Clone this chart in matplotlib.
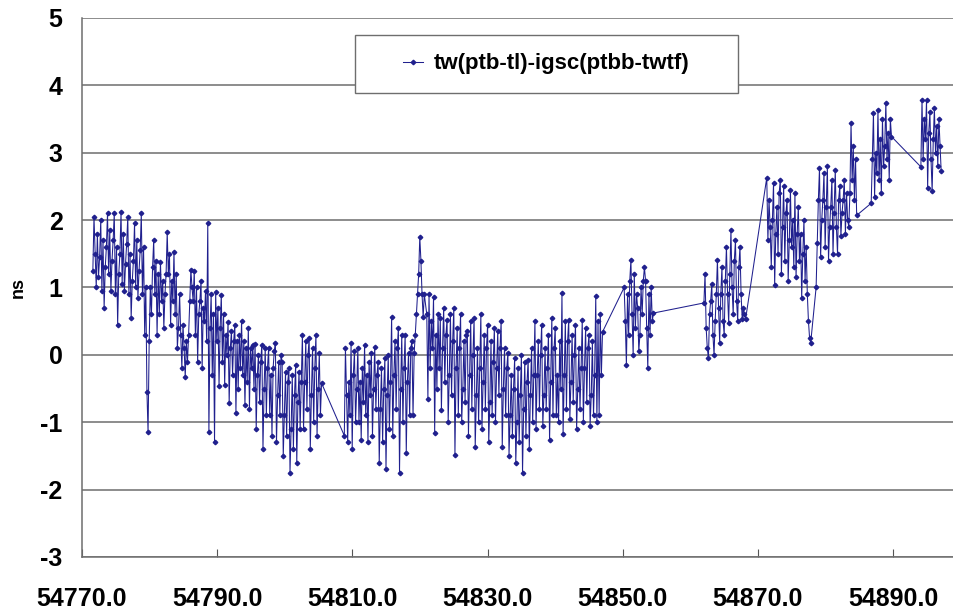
import numpy as np
import matplotlib
matplotlib.use("Agg")
import matplotlib.pyplot as plt
from matplotlib.patches import Rectangle

plt.rcParams['font.family'] = ['Liberation Sans', 'DejaVu Sans']

STEP = 1.0 / 6  # days between samples

seg_starts = [54771.6, 54808.8, 54821.0, 54850.2, 54862.0, 54871.3, 54878.6, 54886.75, 54894.1]

seg_a = [
    1.25, 2.05, 1.5, 1.0, 1.8, 1.15,   1.45, 2.0, 0.95, 1.7, 0.7, 1.3,
    1.6, 2.1, 1.2, 1.85, 0.95, 1.4,    1.7, 2.1, 0.9, 1.6, 0.45, 1.2,
    1.5, 2.12, 1.05, 1.8, 0.95, 1.35,  1.65, 2.05, 0.9, 1.5, 0.55, 1.1,
    1.4, 1.95, 1.0, 1.7, 0.85, 1.25,   1.55, 2.1, 0.9, 1.6, 0.3, 1.0,
    -0.55, -1.15, 0.2, 1.0, 0.6, 1.3,  1.7, 0.9, 1.4, 0.3, 1.2, 0.6,
    1.38, 0.8, 1.1, 0.4, 0.9, 1.2,     1.82, 1.2, 1.5, 0.45, 1.1, 0.8,
    1.53, 0.6, 1.2, 0.1, 0.4, 0.9,     0.3, -0.2, 0.45, 0.1, -0.33, 0.2,
    -0.1, 0.3, 0.8, 1.26, 1.0, 0.8,    1.25, 0.3, 1.0, -0.1, 0.6, 0.8,
    1.1, -0.2, 0.7, 0.5, 0.95, 0.2,    1.96, -1.15, 0.4, 0.9, -0.3, 0.6,
    -1.29, 0.93, 0.2, 0.7, -0.47, 0.4, 0.89, -0.1, 0.6, -0.45, 0.3, 0.0,
    0.49, -0.72, 0.1, 0.35, -0.3, 0.2, 0.45, -0.86, 0.2, -0.5, 0.3, -0.2,
    0.5, -0.3, 0.2, -0.75, 0.1, -0.4,  0.4, -0.8, 0.1, -0.2, 0.15, -0.5,
    0.16, -1.1, -0.3, 0.0, -0.7, -0.1, 0.15, -1.4, -0.5, 0.1, -0.9, -0.2,
    0.1, -0.9, -0.3, -1.2, -0.2, 0.05, 0.18, -1.3, -0.6, -0.1, -0.9, 0.0,
    -0.1, -1.5, -0.9, -0.25, -1.2, -0.4,  -0.2, -1.75, -1.1, -0.3, -1.4, -0.6,
    -0.15, -1.6, -0.7, -0.25, -1.1, -0.4, 0.3, -1.1, -0.4, 0.2, -0.8, 0.0,
    0.25, -1.4, -0.6, 0.1, -1.0, -0.2,  0.3, -1.2, -0.5, 0.03, -0.9, -0.42,
]
seg_b = [
    -1.2, 0.1, -0.6, -1.3, -0.4, -0.9,  0.18, -1.4, -0.3, 0.05, -1.0, -0.5,
    0.1, -1.0, -0.4, -1.26, -0.2, -0.7, 0.15, -0.9, -0.3, -1.3, -0.1, -0.6,
    0.03, -1.2, -0.5, 0.12, -0.8, -0.3, -0.1, -1.6, -0.8, -0.2, -1.3, -0.5,
    -0.05, -1.7, -0.6, 0.0, -1.1, -0.4, 0.56, -1.2, -0.3, 0.2, -0.8, 0.1,
    0.4, -1.75, -0.5, 0.3, -1.0, -0.2,  0.3, -1.45, -0.4, 0.03, -0.9, 0.1,
    0.2, -0.9, 0.03, 0.3, 0.6, 0.9,     1.2, 1.75, 1.4, 0.9, 0.56, 0.9,
]
seg_c = [
    0.6, -0.65, 0.9, -0.2, 0.5, 0.1,    0.86, -1.16, 0.3, -0.5, 0.6, -0.2,
    0.55, -0.82, 0.1, 0.7, -0.4, 0.3,   0.52, -1.0, -0.3, 0.6, -0.6, 0.2,
    0.7, -1.49, -0.2, 0.4, -0.9, 0.1,   0.6, -1.0, -0.5, 0.2, -0.7, 0.3,
    0.35, -1.2, -0.3, 0.5, -0.8, 0.0,   0.55, -1.37, -0.6, 0.1, -1.0, -0.2,
    0.6, -1.1, -0.4, 0.3, -0.8, 0.1,    0.45, -1.3, -0.7, 0.2, -0.9, -0.1,
    0.4, -1.0, -0.2, 0.35, -0.6, 0.1,   0.5, -1.37, -0.5, 0.1, -0.9, -0.2,
    0.03, -1.5, -0.9, -0.3, -1.2, -0.5, -0.05, -1.6, -1.0, -0.2, -1.3, -0.6,
    0.0, -1.75, -0.8, -0.1, -1.2, -0.4, -0.07, -1.4, -0.6, 0.1, -1.0, -0.3,
    0.5, -1.1, -0.3, 0.2, -0.8, 0.0,    0.45, -1.05, -0.6, 0.1, -0.8, -0.2,
    0.3, -1.27, -0.4, 0.55, -0.9, 0.1,  0.4, -0.9, -0.3, -1.0, 0.2, -0.5,
    0.92, -1.18, -0.3, 0.5, -0.8, 0.2,  0.52, -0.95, -0.4, 0.3, -0.7, 0.0,
    0.45, -1.1, -0.5, 0.1, -0.8, -0.2,  0.52, -1.0, -0.2, 0.4, -0.7, 0.1,
    0.3, -1.05, -0.6, 0.2, -0.9, -0.3,  0.88, -1.0, 0.5, -0.9, 0.6, -0.3,
    0.34,
]
seg_d = [
    1.0, 0.5, -0.15, 0.9, 0.3, 1.1,   1.41, 0.6, 0.0, 1.2, 0.4, 0.9,
    0.7, 0.05, 0.3, 1.0, 0.6, 1.1,    1.3, 1.1, 0.4, -0.2, 0.9, 0.3,
    1.0, 0.5, 0.62,
]
seg_e = [
    0.77, 1.2, 0.4, 0.1, -0.05, 0.6,  0.8, 1.05, 0.3, 0.0, 0.5, 0.9,
    1.41, 0.7, 0.18, 0.9, 1.3, 0.5,   0.3, 1.1, 1.6, 0.9, 0.47, 1.2,
    1.85, 1.0, 0.6, 1.4, 1.7, 0.8,    0.5, 1.3, 1.6, 0.9, 0.53, 0.7,
    0.6, 0.53,
]
seg_f = [
    2.63, 1.7, 2.3, 1.9, 1.3, 2.0,    2.55, 1.03, 1.8, 2.2, 1.5, 2.4,
    2.6, 1.2, 1.9, 2.5, 1.4, 2.1,     2.3, 1.1, 1.7, 2.45, 1.6, 2.0,
    1.3, 2.4, 1.15, 1.8, 2.2, 1.4,    1.8, 0.85, 1.5, 2.0, 1.1, 1.6,
    0.9, 0.5, 0.25, 0.18,
]
seg_g = [
    1.0, 1.66, 2.3, 2.77, 1.45, 2.0,  2.3, 2.7, 1.6, 2.2, 2.8, 1.4,
    1.9, 2.2, 2.6, 1.5, 2.1, 2.75,    1.9, 1.5, 2.3, 2.5, 1.76, 2.1,
    2.3, 2.6, 1.8, 2.4, 2.0, 1.9,     2.4, 3.44, 2.6, 3.1, 2.3, 2.9,
    2.07,
]
seg_h = [
    2.25, 2.9, 3.59, 2.35, 3.0, 2.7,  3.64, 2.6, 3.2, 2.4, 3.5, 2.8,
    3.1, 3.74, 2.9, 3.3, 2.6, 3.5, 3.24,
]
seg_i = [
    2.79, 3.78, 2.9, 3.5, 3.2, 3.78,  2.48, 3.3, 3.6, 2.9, 2.43, 3.2,
    3.66, 3.0, 3.4, 2.8, 3.5, 3.1, 2.73,
]

segments = [seg_a, seg_b, seg_c, seg_d, seg_e, seg_f, seg_g, seg_h, seg_i]

mjd = np.concatenate([s0 + STEP * np.arange(len(v)) for s0, v in zip(seg_starts, segments)])
vals = np.concatenate([np.array(v) for v in segments])

xticks = [54770, 54790, 54810, 54830, 54850, 54870, 54890]
yticks = [-3, -2, -1, 0, 1, 2, 3, 4, 5]
series_name = 'tw(ptb-tl)-igsc(ptbb-twtf)'

fig = plt.figure(figsize=(9.54, 6.12), dpi=100)
ax = fig.add_axes([0.086, 0.09, 0.914, 0.8806])

ax.plot(mjd, vals, color='#20208e', lw=0.75, marker='D', ms=2.3, mec='#20208e', mfc='#20208e',
        label=series_name, zorder=3)

ax.set_xlim(54770, 54899)
ax.set_ylim(-3, 5)
ax.set_xticks(xticks)
ax.set_xticklabels([f'{t:.1f}' for t in xticks], fontsize=18, fontweight='bold')
ax.set_yticks(yticks)
ax.set_yticklabels([str(t) for t in yticks], fontsize=18, fontweight='bold')
ax.tick_params(axis='x', direction='in', length=6, pad=22, color='#555555')
ax.tick_params(axis='y', length=0, pad=14)
ax.yaxis.grid(True, color='#6e6e6e', lw=1.1)
ax.set_axisbelow(True)

for side in ['right', 'top']:
    ax.spines[side].set_visible(False)
for side in ['left', 'bottom']:
    ax.spines[side].set_color('#6e6e6e')
    ax.spines[side].set_linewidth(1.1)

ax.set_ylabel('ns', fontsize=13, fontweight='bold', labelpad=10)

# legend box (wider than the entry, like the original spreadsheet chart)
ax.add_patch(Rectangle((0.313, 0.861), 0.439, 0.1075, transform=ax.transAxes,
                       facecolor='white', edgecolor='#6e6e6e', lw=1.0, zorder=4))
ax.legend(loc='center', bbox_to_anchor=(0.5325, 0.9148), frameon=False,
          handlelength=0.9, handletextpad=0.45, prop={'weight': 'bold', 'size': 16})

fig.savefig('out.png', dpi=100)
